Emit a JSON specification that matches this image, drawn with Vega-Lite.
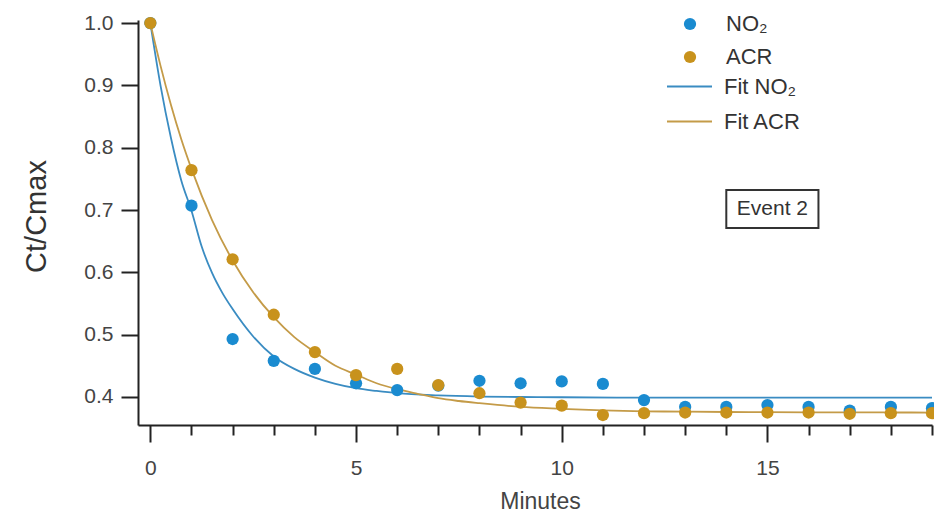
{
  "$schema": "https://vega.github.io/schema/vega-lite/v6.json",
  "width": 794,
  "height": 405,
  "autosize": {"type": "none"},
  "padding": {"left": 138, "top": 20, "right": 2, "bottom": 91},
  "background": "white",
  "config": {"view": {"stroke": null}, "font": "Liberation Sans", "legend": {"padding": 0}},
  "datasets": {
    "pts": [
      {"t": 0, "series": "NO₂", "value": 1.0},
      {"t": 1, "series": "NO₂", "value": 0.707},
      {"t": 2, "series": "NO₂", "value": 0.493},
      {"t": 3, "series": "NO₂", "value": 0.458},
      {"t": 4, "series": "NO₂", "value": 0.445},
      {"t": 5, "series": "NO₂", "value": 0.422},
      {"t": 6, "series": "NO₂", "value": 0.411},
      {"t": 7, "series": "NO₂", "value": 0.418},
      {"t": 8, "series": "NO₂", "value": 0.426},
      {"t": 9, "series": "NO₂", "value": 0.422},
      {"t": 10, "series": "NO₂", "value": 0.425},
      {"t": 11, "series": "NO₂", "value": 0.421},
      {"t": 12, "series": "NO₂", "value": 0.395},
      {"t": 13, "series": "NO₂", "value": 0.384},
      {"t": 14, "series": "NO₂", "value": 0.384},
      {"t": 15, "series": "NO₂", "value": 0.387},
      {"t": 16, "series": "NO₂", "value": 0.384},
      {"t": 17, "series": "NO₂", "value": 0.378},
      {"t": 18, "series": "NO₂", "value": 0.384},
      {"t": 19, "series": "NO₂", "value": 0.382},
      {"t": 0, "series": "ACR", "value": 1.0},
      {"t": 1, "series": "ACR", "value": 0.764},
      {"t": 2, "series": "ACR", "value": 0.621},
      {"t": 3, "series": "ACR", "value": 0.532},
      {"t": 4, "series": "ACR", "value": 0.472},
      {"t": 5, "series": "ACR", "value": 0.435},
      {"t": 6, "series": "ACR", "value": 0.445},
      {"t": 7, "series": "ACR", "value": 0.419},
      {"t": 8, "series": "ACR", "value": 0.406},
      {"t": 9, "series": "ACR", "value": 0.391},
      {"t": 10, "series": "ACR", "value": 0.386},
      {"t": 11, "series": "ACR", "value": 0.371},
      {"t": 12, "series": "ACR", "value": 0.374},
      {"t": 13, "series": "ACR", "value": 0.375},
      {"t": 14, "series": "ACR", "value": 0.375},
      {"t": 15, "series": "ACR", "value": 0.375},
      {"t": 16, "series": "ACR", "value": 0.375},
      {"t": 17, "series": "ACR", "value": 0.373},
      {"t": 18, "series": "ACR", "value": 0.374},
      {"t": 19, "series": "ACR", "value": 0.374}
    ],
    "fit": [
      {"t": 0, "series": "Fit NO₂", "value": 1.0},
      {"t": 0.25, "series": "Fit NO₂", "value": 0.899},
      {"t": 0.5, "series": "Fit NO₂", "value": 0.816},
      {"t": 0.75, "series": "Fit NO₂", "value": 0.748},
      {"t": 1, "series": "Fit NO₂", "value": 0.699},
      {"t": 1.25, "series": "Fit NO₂", "value": 0.641},
      {"t": 1.5, "series": "Fit NO₂", "value": 0.599},
      {"t": 1.75, "series": "Fit NO₂", "value": 0.567},
      {"t": 2, "series": "Fit NO₂", "value": 0.541},
      {"t": 2.5, "series": "Fit NO₂", "value": 0.497},
      {"t": 3, "series": "Fit NO₂", "value": 0.465},
      {"t": 3.5, "series": "Fit NO₂", "value": 0.445},
      {"t": 4, "series": "Fit NO₂", "value": 0.431},
      {"t": 4.5, "series": "Fit NO₂", "value": 0.421},
      {"t": 5, "series": "Fit NO₂", "value": 0.414},
      {"t": 5.5, "series": "Fit NO₂", "value": 0.4096},
      {"t": 6, "series": "Fit NO₂", "value": 0.406},
      {"t": 7, "series": "Fit NO₂", "value": 0.4025},
      {"t": 8, "series": "Fit NO₂", "value": 0.4007},
      {"t": 9, "series": "Fit NO₂", "value": 0.3999},
      {"t": 10, "series": "Fit NO₂", "value": 0.3995},
      {"t": 12, "series": "Fit NO₂", "value": 0.399},
      {"t": 19, "series": "Fit NO₂", "value": 0.399},
      {"t": 0, "series": "Fit ACR", "value": 1.0},
      {"t": 0.25, "series": "Fit ACR", "value": 0.931},
      {"t": 0.5, "series": "Fit ACR", "value": 0.869},
      {"t": 0.75, "series": "Fit ACR", "value": 0.814},
      {"t": 1, "series": "Fit ACR", "value": 0.766},
      {"t": 1.5, "series": "Fit ACR", "value": 0.684},
      {"t": 2, "series": "Fit ACR", "value": 0.619},
      {"t": 2.5, "series": "Fit ACR", "value": 0.568},
      {"t": 3, "series": "Fit ACR", "value": 0.528},
      {"t": 3.5, "series": "Fit ACR", "value": 0.496},
      {"t": 4, "series": "Fit ACR", "value": 0.472},
      {"t": 4.5, "series": "Fit ACR", "value": 0.45},
      {"t": 5, "series": "Fit ACR", "value": 0.436},
      {"t": 5.5, "series": "Fit ACR", "value": 0.422},
      {"t": 6, "series": "Fit ACR", "value": 0.4125},
      {"t": 6.5, "series": "Fit ACR", "value": 0.405},
      {"t": 7, "series": "Fit ACR", "value": 0.398},
      {"t": 7.5, "series": "Fit ACR", "value": 0.3935},
      {"t": 8, "series": "Fit ACR", "value": 0.39},
      {"t": 9, "series": "Fit ACR", "value": 0.384},
      {"t": 10, "series": "Fit ACR", "value": 0.381},
      {"t": 11, "series": "Fit ACR", "value": 0.3786},
      {"t": 12, "series": "Fit ACR", "value": 0.377},
      {"t": 13, "series": "Fit ACR", "value": 0.3764},
      {"t": 14, "series": "Fit ACR", "value": 0.3759},
      {"t": 15, "series": "Fit ACR", "value": 0.3756},
      {"t": 16, "series": "Fit ACR", "value": 0.3753},
      {"t": 17, "series": "Fit ACR", "value": 0.3752},
      {"t": 18, "series": "Fit ACR", "value": 0.3751},
      {"t": 19, "series": "Fit ACR", "value": 0.375}
    ],
    "ann": [
      {"x1": 14.0, "x2": 16.24, "y1": 0.671, "y2": 0.732, "xc": 15.12, "yc": 0.701, "label": "Event 2"}
    ]
  },
  "resolve": {"axis": {"x": "independent", "y": "independent"}, "scale": {"color": "independent"}},
  "layer": [
    {
      "data": {"name": "fit"},
      "mark": {"type": "line", "strokeWidth": 1.8, "interpolate": "monotone"},
      "encoding": {
        "x": {
          "field": "t", "type": "quantitative",
          "scale": {"domain": [-0.3, 19], "nice": false, "zero": false},
          "axis": {
            "orient": "bottom",
            "values": [0, 5, 10, 15], "title": "Minutes", "grid": false,
            "domainColor": "#222", "domainWidth": 2, "tickColor": "#222", "tickWidth": 2, "tickSize": 17,
            "labelFontSize": 21, "labelColor": "#444", "labelPadding": 15, "labelFont": "Liberation Sans",
            "titleFontSize": 23, "titleFontWeight": "normal", "titleColor": "#444", "titleFont": "Liberation Sans",
            "titleX": 402, "titleY": 76, "titleBaseline": "middle"
          }
        },
        "y": {
          "field": "value", "type": "quantitative",
          "scale": {"domain": [0.355, 1.005], "nice": false, "zero": false},
          "axis": {
            "orient": "left",
            "values": [0.4, 0.5, 0.6, 0.7, 0.8, 0.9, 1.0], "format": ".1f", "title": "Ct/Cmax", "grid": false,
            "domainColor": "#222", "domainWidth": 2, "tickColor": "#222", "tickWidth": 2, "tickSize": 17,
            "labelFontSize": 21, "labelColor": "#444", "labelPadding": 8, "labelFont": "Liberation Sans",
            "titleFontSize": 29, "titleFontWeight": "normal", "titleColor": "#333", "titleFont": "Liberation Sans",
            "titleX": -102, "titleY": 196, "titleBaseline": "middle", "titleAngle": -90
          }
        },
        "color": {
          "field": "series", "type": "nominal",
          "scale": {
            "domain": ["Fit NO₂", "Fit ACR"],
            "range": ["#3a8cc2", "#c49b48"]
          },
          "legend": {
            "title": null, "orient": "none", "legendX": 528, "legendY": 43,
            "symbolType": "stroke", "symbolSize": 2025, "symbolStrokeWidth": 2,
            "rowPadding": -18, "labelOffset": 11,
            "labelFontSize": 22, "labelColor": "#333", "labelFont": "Liberation Sans"
          }
        }
      }
    },
    {
      "data": {"name": "pts"},
      "mark": {"type": "point", "filled": true, "size": 150, "opacity": 1},
      "encoding": {
        "x": {"field": "t", "type": "quantitative", "axis": null},
        "y": {"field": "value", "type": "quantitative", "axis": null},
        "color": {
          "field": "series", "type": "nominal",
          "scale": {"domain": ["NO₂", "ACR"], "range": ["#1a8bd0", "#c8921c"]},
          "legend": {
            "title": null, "orient": "none", "legendX": 541, "legendY": -7,
            "symbolType": "circle", "symbolSize": 150, "symbolStrokeWidth": 0,
            "rowPadding": 11, "labelOffset": 25,
            "labelFontSize": 22, "labelColor": "#333", "labelFont": "Liberation Sans"
          }
        }
      }
    },
    {
      "data": {"name": "ann"},
      "mark": {"type": "rect", "fill": null, "fillOpacity": 0, "stroke": "#333", "strokeWidth": 2},
      "encoding": {
        "x": {
          "field": "x1", "type": "quantitative",
          "axis": {
            "orient": "bottom",
            "values": [1, 2, 3, 4, 6, 7, 8, 9, 11, 12, 13, 14, 16, 17, 18, 19],
            "labels": false, "domain": false, "grid": false, "title": null,
            "tickColor": "#222", "tickWidth": 2, "tickSize": 10
          }
        },
        "x2": {"field": "x2"},
        "y": {"field": "y1", "type": "quantitative", "axis": null},
        "y2": {"field": "y2"}
      }
    },
    {
      "data": {"name": "ann"},
      "mark": {"type": "text", "fontSize": 21, "font": "Liberation Sans", "color": "#333", "align": "center", "baseline": "middle"},
      "encoding": {
        "x": {"field": "xc", "type": "quantitative", "axis": null},
        "y": {"field": "yc", "type": "quantitative", "axis": null},
        "text": {"field": "label"}
      }
    }
  ]
}
